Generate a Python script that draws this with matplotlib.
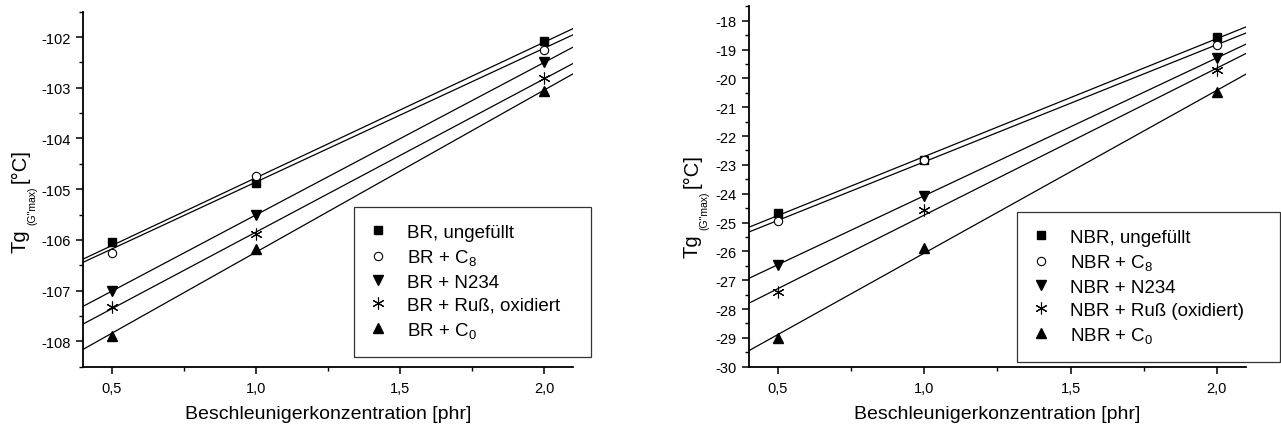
import numpy as np
import matplotlib
matplotlib.use("Agg")
import matplotlib.pyplot as plt
from matplotlib.ticker import MultipleLocator, FixedLocator
from matplotlib.transforms import IdentityTransform

plt.rcParams['font.family'] = ['Liberation Sans', 'DejaVu Sans']
plt.rcParams['axes.unicode_minus'] = False
plt.rcParams['mathtext.default'] = 'regular'

# accelerator concentration [phr]
conc = [0.5, 1.0, 2.0]

# BR series, Tg at G'' max [deg C]
br_unfilled = [-106.05, -104.87, -102.07]
br_c8 = [-106.26, -104.74, -102.26]
br_n234 = [-107.01, -105.51, -102.50]
br_soot = [-107.33, -105.89, -102.81]
br_c0 = [-107.89, -106.17, -103.07]

# NBR series
nbr_unfilled = [-24.67, -22.84, -18.58]
nbr_c8 = [-24.96, -22.84, -18.85]
nbr_n234 = [-26.46, -24.07, -19.29]
nbr_soot = [-27.42, -24.55, -19.71]
nbr_c0 = [-29.01, -25.87, -20.48]

br_labels = ['BR, ungefüllt', r'BR + C$_{8}$', 'BR + N234',
             'BR + Ruß, oxidiert', r'BR + C$_{0}$']
nbr_labels = ['NBR, ungefüllt', r'NBR + C$_{8}$', 'NBR + N234',
              'NBR + Ruß (oxidiert)', r'NBR + C$_{0}$']

x_ticks = [0.5, 1.0, 1.5, 2.0]
x_ticklabels = ['0,5', '1,0', '1,5', '2,0']

# y label pieces: (text, size, shift below baseline in px)
ylabel_parts = [('Tg', 14.5, 0), ('(G"max)', 7.5, 10), ('[°C]', 14.5, 0)]

markers = [
    dict(marker='s', ms=5.5, mfc='black', mec='black'),
    dict(marker='o', ms=6, mfc='white', mec='black', mew=0.8),
    dict(marker='v', ms=7, mfc='black', mec='black'),
    dict(marker=(6, 2, 0), ms=8.5, mfc='black', mec='black', mew=0.8),
    dict(marker='^', ms=7, mfc='black', mec='black'),
]


def draw_panel(ax, series, labels, ylim, ymajor, yminor, leg_box):
    xlim = (0.4, 2.1)
    handles = []
    for ys, lab, mk in zip(series, labels, markers):
        coef = np.polyfit(conc, ys, 1)
        xf = np.array(xlim)
        ax.plot(xf, np.polyval(coef, xf), color='black', lw=0.9, zorder=2)
        h, = ax.plot(conc, ys, ls='none', label=lab, zorder=3, **mk)
        handles.append(h)

    ax.set_xlim(*xlim)
    ax.set_ylim(*ylim)
    ax.xaxis.set_major_locator(FixedLocator(x_ticks))
    ax.set_xticklabels(x_ticklabels)
    ax.xaxis.set_minor_locator(MultipleLocator(0.25))
    ax.yaxis.set_major_locator(MultipleLocator(ymajor))
    ax.yaxis.set_minor_locator(MultipleLocator(yminor))

    for side in ['top', 'right']:
        ax.spines[side].set_visible(False)
    for side in ['left', 'bottom']:
        ax.spines[side].set_linewidth(1.3)
    ax.tick_params(which='major', direction='out', length=5, width=1.1,
                   labelsize=10.5)
    ax.tick_params(axis='x', which='major', pad=5.5)
    ax.tick_params(which='minor', direction='out', length=3, width=1.0)

    ax.set_xlabel('Beschleunigerkonzentration [phr]', fontsize=14,
                  labelpad=7)

    leg = ax.legend(handles=handles, loc='upper left', mode='expand',
                    bbox_to_anchor=leg_box, borderaxespad=0,
                    fontsize=13.5, frameon=True, fancybox=False,
                    edgecolor='black', handlelength=0.8, handletextpad=1.15,
                    labelspacing=0.33, borderpad=0.9, numpoints=1)
    leg.get_frame().set_linewidth(0.9)
    leg.set_clip_on(False)


def draw_ylabel(fig, x_base, y_center):
    # rotated label built from pieces, positions in pixels
    renderer = fig.canvas.get_renderer()
    gap = 4
    lengths = []
    for txt, size, _ in ylabel_parts:
        t = fig.text(0, 0, txt, fontsize=size)
        lengths.append(t.get_window_extent(renderer).width)
        t.remove()
    total = sum(lengths) + gap * (len(lengths) - 1)
    y = 427 - y_center - total / 2
    for (txt, size, shift), ln in zip(ylabel_parts, lengths):
        fig.text(x_base + shift, y, txt, fontsize=size, rotation=90,
                 rotation_mode='anchor', ha='left', va='baseline',
                 transform=IdentityTransform())
        y += ln + gap


fig = plt.figure(figsize=(12.81, 4.27), dpi=100)
ax1 = fig.add_axes([0.0647, 0.1389, 0.3826, 0.8314])
ax2 = fig.add_axes([0.5845, 0.1389, 0.3882, 0.8440])

draw_panel(ax1, [br_unfilled, br_c8, br_n234, br_soot, br_c0], br_labels,
           (-108.5, -101.5), 1, 0.5, (0.5531, 0.0442, 0.4836, 0.4056))
draw_panel(ax2, [nbr_unfilled, nbr_c8, nbr_n234, nbr_soot, nbr_c0], nbr_labels,
           (-30, -17.5), 1, 0.5, (0.5395, 0.0158, 0.529, 0.4134))

draw_ylabel(fig, 25.5, 201)
draw_ylabel(fig, 697.5, 206)

fig.savefig('out.png', dpi=100)
